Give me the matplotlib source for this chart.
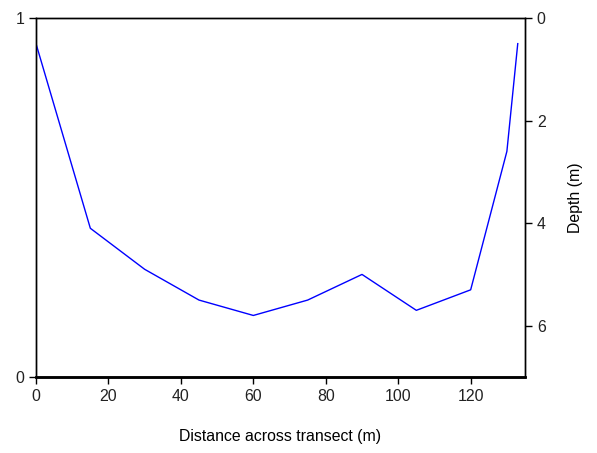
import matplotlib
matplotlib.use("Agg")
import matplotlib.pyplot as plt

distance = [0, 15, 30, 45, 60, 75, 90, 105, 120, 130, 133]
depth = [0.5, 4.1, 4.9, 5.5, 5.8, 5.5, 5.0, 5.7, 5.3, 2.6, 0.5]
x_ticks = [0, 20, 40, 60, 80, 100, 120]
depth_ticks = [0, 2, 4, 6]

plt.rcParams['font.family'] = ['Liberation Sans', 'DejaVu Sans']
plt.rcParams['font.size'] = 11.4

fig = plt.figure(figsize=(5.97, 4.53), dpi=100)
ax = fig.add_axes([36/597, 1-377/453, (525-36)/597, (377-18)/453])
ax.set_xlim(0, 135)
ax.set_ylim(0, 1)
ax.set_yticks([0, 1])
ax.set_yticklabels(['0', '1'])
ax.set_xticks(x_ticks)
ax.spines['bottom'].set_linewidth(1.8)
for s in ['left', 'top', 'right']:
    ax.spines[s].set_linewidth(1.0)
ax.tick_params(direction='out', length=5, width=1, colors='black', labelcolor='#222222')
ax.set_xlabel('Distance across transect (m)', labelpad=18)

ax2 = ax.twinx()
ax2.plot(distance, depth, color='#0000ff', linewidth=1)
ax2.set_ylim(7, 0)
ax2.set_yticks(depth_ticks)
ax2.set_ylabel('Depth (m)', labelpad=16)
ax2.tick_params(direction='out', length=5, width=1, labelcolor='#222222')
for s in ['left', 'top', 'right']:
    ax2.spines[s].set_linewidth(1.0)
ax2.spines['bottom'].set_linewidth(1.8)

fig.savefig('out.png', dpi=100)
